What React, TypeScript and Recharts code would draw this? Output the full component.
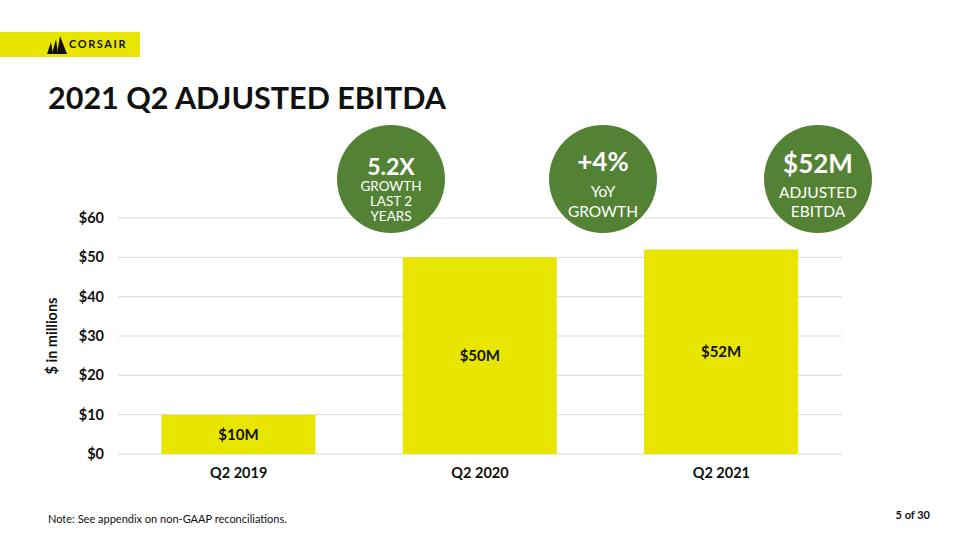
import { BarChart, Bar, XAxis, YAxis, CartesianGrid, LabelList } from "recharts";

const quarters = ["Q2 2019", "Q2 2020", "Q2 2021"];
const ebitda = [10, 50, 52];
const barLabels = ["$10M", "$50M", "$52M"];
const yTicks = [0, 10, 20, 30, 40, 50, 60];

const highlights = [
    { head: "5.2X", lines: ["GROWTH", "LAST 2", "YEARS"] },
    { head: "+4%", lines: ["YoY", "GROWTH"] },
    { head: "$52M", lines: ["ADJUSTED", "EBITDA"] },
];

const chartData = quarters.map((q, i) => ({ quarter: q, value: ebitda[i], label: barLabels[i] }));

const FONT = "Lato, 'Open Sans', sans-serif";
const YELLOW = "#E8E600";
const GREEN = "#548235";

// bubble layout: centre, radius, type sizes
const bubblePos = [
    { cx: 391, cy: 179, r: 54, pad: 28, headSize: 23, headLH: 26, gap: 0, lineSize: 13.5, lineH: 15 },
    { cx: 603, cy: 179, r: 54, pad: 22, headSize: 26, headLH: 28, gap: 6, lineSize: 15.5, lineH: 20 },
    { cx: 818, cy: 179, r: 54, pad: 24, headSize: 26, headLH: 28, gap: 6, lineSize: 15.5, lineH: 19 },
];

const Logo = () => (
    <div style={{ position: "absolute", left: 0, top: 32, width: 140, height: 25, background: YELLOW }}>
        <svg width={20} height={18} style={{ position: "absolute", left: 47, top: 4 }} viewBox="0 0 20 18">
            <polygon points="0,18 4,6 6,18" fill="#111" />
            <polygon points="5,18 9,3 11,18" fill="#111" />
            <polygon points="10,18 13,0 20,18" fill="#111" />
        </svg>
        <span
            style={{
                position: "absolute",
                left: 69,
                top: 5,
                fontFamily: FONT,
                fontWeight: 700,
                fontSize: 11,
                letterSpacing: 1.6,
                color: "#111",
            }}
        >
            CORSAIR
        </span>
    </div>
);

export default function App() {
    return (
        <div
            style={{
                position: "fixed",
                left: 0,
                top: 0,
                width: 960,
                height: 540,
                background: "#fff",
                overflow: "hidden",
                fontFamily: FONT,
            }}
        >
            <Logo />
            <div
                style={{
                    position: "absolute",
                    left: 48,
                    top: 79,
                    fontSize: 30.5,
                    fontWeight: 700,
                    color: "#111",
                    whiteSpace: "nowrap",
                }}
            >
                2021 Q2 ADJUSTED EBITDA
            </div>

            <div style={{ position: "absolute", left: 0, top: 0 }}>
                <BarChart
                    width={960}
                    height={540}
                    data={chartData}
                    margin={{ top: 218, right: 118, left: 58, bottom: 56 }}
                    barCategoryGap="18%"
                >
                    <CartesianGrid vertical={false} stroke="#d9d9d9" />
                    <XAxis
                        dataKey="quarter"
                        axisLine={false}
                        tickLine={false}
                        height={30}
                        tickMargin={8}
                        tick={{ fontSize: 14.5, fontWeight: 700, fill: "#111", fontFamily: FONT }}
                    />
                    <YAxis
                        width={60}
                        domain={[0, 60]}
                        ticks={yTicks}
                        axisLine={false}
                        tickLine={false}
                        tickMargin={8}
                        tickFormatter={(v: number) => `$${v}`}
                        tick={{ fontSize: 14.5, fontWeight: 700, fill: "#111", fontFamily: FONT }}
                        label={{
                            value: "$ in millions",
                            angle: -90,
                            position: "insideLeft",
                            offset: -6,
                            style: { fontSize: 14.5, fontWeight: 700, fill: "#111", fontFamily: FONT, textAnchor: "middle" },
                        }}
                    />
                    <Bar dataKey="value" fill={YELLOW} isAnimationActive={false}>
                        <LabelList
                            dataKey="label"
                            position="center"
                            style={{ fontSize: 15, fontWeight: 700, fill: "#111", fontFamily: FONT }}
                        />
                    </Bar>
                </BarChart>
            </div>

            {highlights.map((h, i) => {
                const p = bubblePos[i];
                return (
                    <div
                        key={h.head}
                        style={{
                            position: "absolute",
                            left: p.cx - p.r,
                            top: p.cy - p.r,
                            width: p.r * 2,
                            height: p.r * 2,
                            boxSizing: "border-box",
                            paddingTop: p.pad,
                            borderRadius: "50%",
                            background: GREEN,
                            color: "#fff",
                            textAlign: "center",
                        }}
                    >
                        <div style={{ fontSize: p.headSize, fontWeight: 700, lineHeight: `${p.headLH}px` }}>{h.head}</div>
                        <div style={{ height: p.gap }} />
                        {h.lines.map((l) => (
                            <div key={l} style={{ fontSize: p.lineSize, lineHeight: `${p.lineH}px` }}>
                                {l}
                            </div>
                        ))}
                    </div>
                );
            })}

            <div style={{ position: "absolute", left: 48, top: 512, fontSize: 11, color: "#111" }}>
                Note: See appendix on non-GAAP reconciliations.
            </div>
            <div
                style={{
                    position: "absolute",
                    right: 30,
                    top: 508,
                    fontSize: 11,
                    fontWeight: 700,
                    color: "#111",
                }}
            >
                5 of 30
            </div>
        </div>
    );
}
